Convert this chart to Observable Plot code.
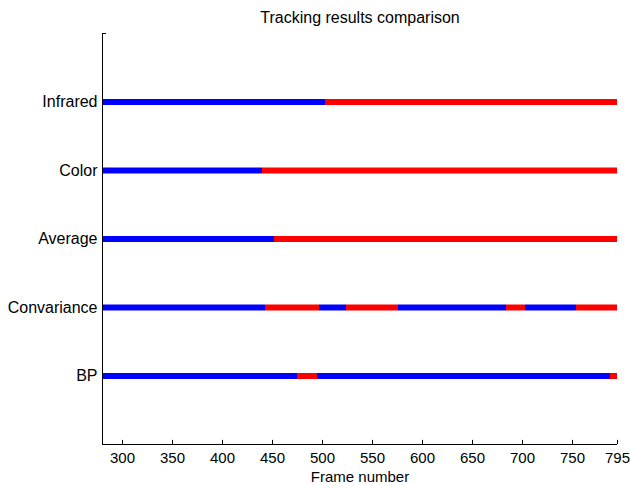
<!DOCTYPE html>
<html>
<head>
<meta charset="utf-8">
<script src="https://cdn.jsdelivr.net/npm/d3@7"></script>
<script src="https://cdn.jsdelivr.net/npm/@observablehq/plot@0.6"></script>
<style>
  html, body { margin: 0; padding: 0; background: #fff; }
  svg { font-family: "Liberation Sans", Arial, sans-serif; }
</style>
</head>
<body>
<div id="chart"></div>
<script>
// Methods, bottom to top
const methods = ["BP", "Convariance", "Average", "Color", "Infrared"];
// Frame breakpoints per method; segments alternate tracked (blue) / lost (red), starting with tracked
const bpBreaks = [280, 475, 495, 788, 795];
const covarianceBreaks = [280, 443, 497, 524, 576, 684, 703, 754, 795];
const averageBreaks = [280, 452, 795];
const colorBreaks = [280, 440, 795];
const infraredBreaks = [280, 503, 795];
const xTicks = [300, 350, 400, 450, 500, 550, 600, 650, 700, 750, 795];
const statusNames = ["tracked", "lost"];
const statusColors = ["#0000ff", "#ff0000"];

const breaksByMethod = [bpBreaks, covarianceBreaks, averageBreaks, colorBreaks, infraredBreaks];
const segments = [];
breaksByMethod.forEach((b, m) => {
  for (let i = 0; i < b.length - 1; i++) {
    segments.push({row: m + 1, method: methods[m], x1: b[i], x2: b[i + 1], status: statusNames[i % 2]});
  }
});

const chart = Plot.plot({
  width: 631,
  height: 485,
  marginLeft: 102,
  marginRight: 14,
  marginTop: 33,
  marginBottom: 41,
  style: {fontSize: "15px", fontFamily: "'Liberation Sans', Arial, sans-serif", color: "#000", background: "#fff"},
  x: {domain: [280, 795], label: null},
  y: {domain: [0, 6], label: null},
  color: {domain: statusNames, range: statusColors},
  marks: [
    Plot.ruleY(segments, {y: "row", x1: "x1", x2: "x2", stroke: "status", strokeWidth: 6}),
    Plot.axisX({ticks: xTicks, tickFormat: d => String(d), tickSize: 0, tickPadding: 8, fontSize: 15, label: null}),
    Plot.ruleX(xTicks, {x: d => d, y1: 0, y2: 0.06, stroke: "#000", strokeWidth: 1}),
    Plot.axisY({ticks: [1, 2, 3, 4, 5], tickFormat: d => methods[d - 1], tickSize: 0, tickPadding: 5, fontSize: 16, label: null}),
    Plot.ruleX([280], {y1: 0, y2: 6, stroke: "#000", strokeWidth: 1}),
    Plot.ruleY([0], {x1: 280, x2: 795, stroke: "#000", strokeWidth: 1}),
    Plot.ruleY([6], {x1: 280, x2: 284, stroke: "#000", strokeWidth: 1}),
    Plot.text(["Frame number"], {frameAnchor: "bottom", dy: 37, fontSize: 15, fill: "#000"}),
    Plot.text(["Tracking results comparison"], {frameAnchor: "top", dy: -22, fontSize: 16, fill: "#000"})
  ]
});
document.getElementById("chart").appendChild(chart);
</script>
</body>
</html>
